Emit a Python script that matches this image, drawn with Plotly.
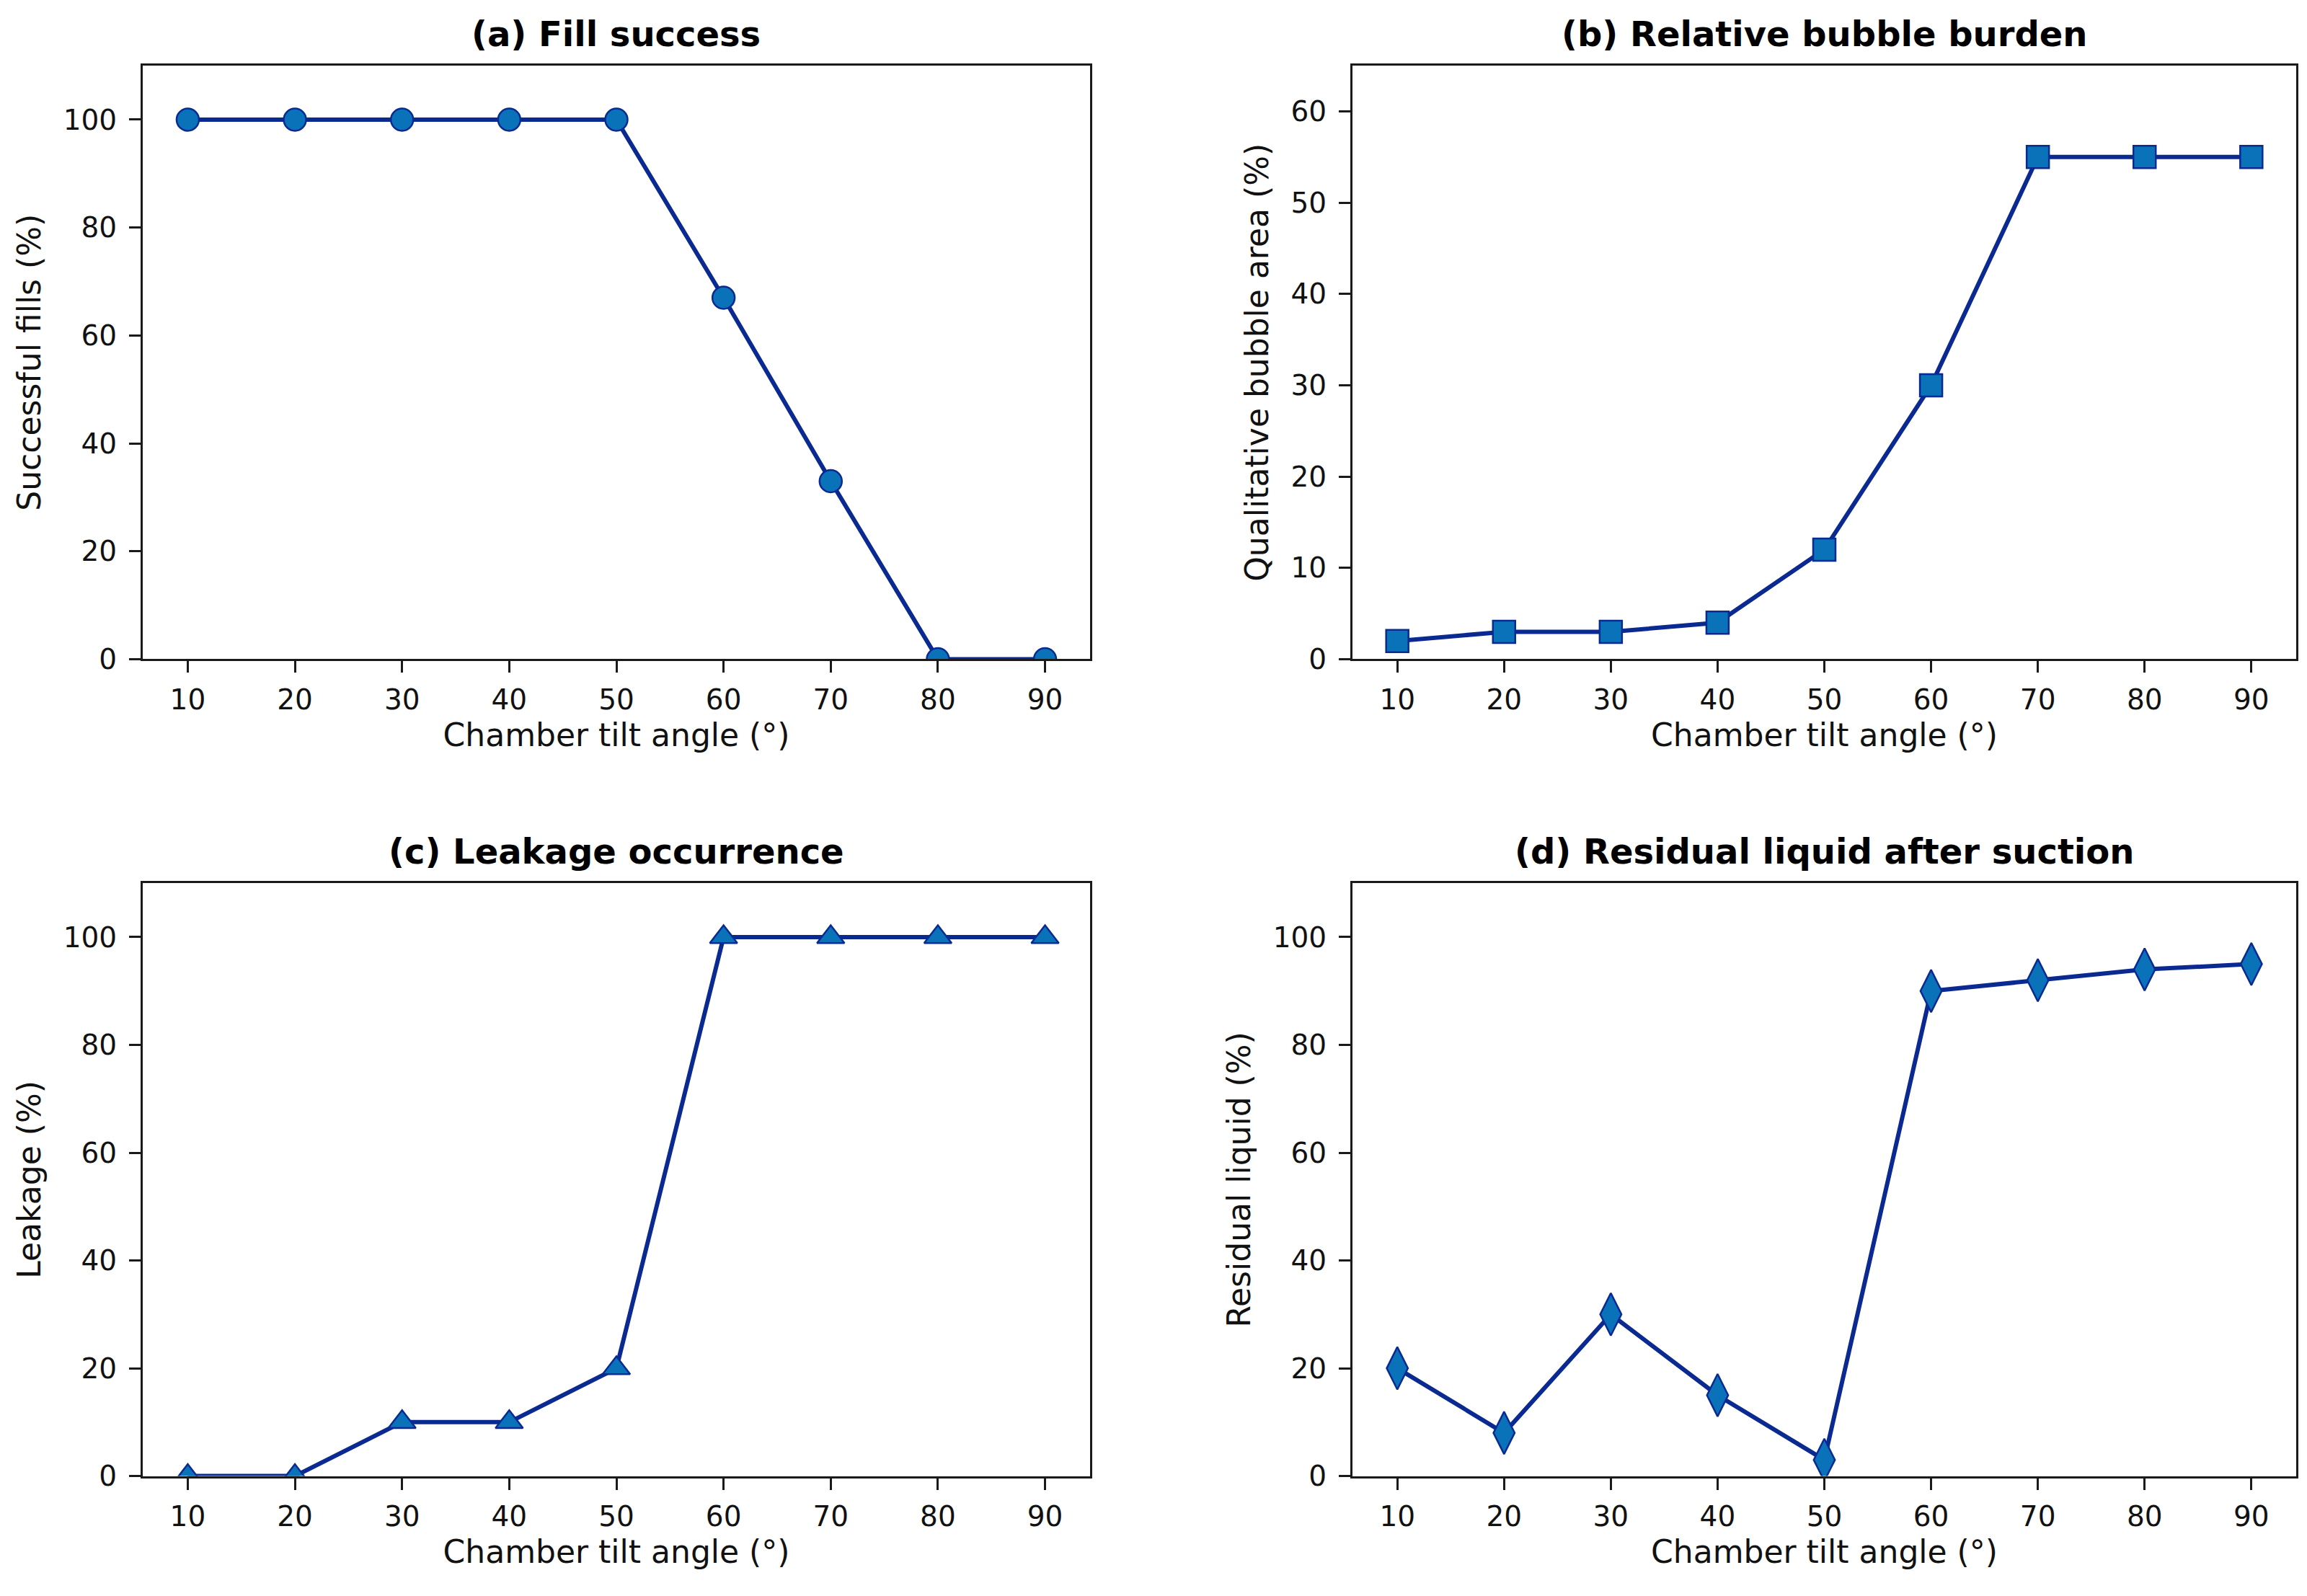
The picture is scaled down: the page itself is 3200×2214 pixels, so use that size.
import plotly.graph_objects as go
from plotly.subplots import make_subplots

# tilt angles shared by all four panels
angles = [10, 20, 30, 40, 50, 60, 70, 80, 90]

fill_success = [100, 100, 100, 100, 100, 67, 33, 0, 0]
bubble_area = [2, 3, 3, 4, 12, 30, 55, 55, 55]
leakage = [0, 0, 10, 10, 20, 100, 100, 100, 100]
residual = [20, 8, 30, 15, 3, 90, 92, 94, 95]

panel_titles = ["(a) Fill success", "(b) Relative bubble burden",
                "(c) Leakage occurrence", "(d) Residual liquid after suction"]
y_titles = ["Successful fills (%)", "Qualitative bubble area (%)",
            "Leakage (%)", "Residual liquid (%)"]
x_title = "Chamber tilt angle (°)"
y_ticks = [[0, 20, 40, 60, 80, 100], [0, 10, 20, 30, 40, 50, 60],
           [0, 20, 40, 60, 80, 100], [0, 20, 40, 60, 80, 100]]
y_ranges = [[0, 110], [0, 65], [0, 110], [0, 110]]

W, H = 3200, 2214
LINE = "#0a2a92"
FILL = "#0a72b8"
FONT = "DejaVu Sans"

series = [fill_success, bubble_area, leakage, residual]
symbols = ["circle", "square", "triangle-up", "diamond-tall"]
sizes = [31, 31, 33, 42]

# axes boxes in pixels (left, right, top, bottom)
boxes = [(190, 1504, 84, 916), (1868, 3177, 84, 916),
         (190, 1504, 1230, 2061), (1868, 3177, 1230, 2061)]

fig = make_subplots(rows=2, cols=2)

for i, ys in enumerate(series):
    r, c = i // 2 + 1, i % 2 + 1
    fig.add_trace(go.Scatter(
        x=angles, y=ys, mode="lines+markers",
        line=dict(color=LINE, width=6),
        marker=dict(symbol=symbols[i], size=sizes[i], color=FILL,
                    line=dict(color=LINE, width=2.5)),
        showlegend=False), row=r, col=c)

for i, (l, rt, t, b) in enumerate(boxes):
    n = "" if i == 0 else str(i + 1)
    xd = [l / W, rt / W]
    yd = [1 - b / H, 1 - t / H]
    common = dict(showline=True, linecolor="#1a1a1a", linewidth=3, mirror=True,
                  ticks="outside", ticklen=16, tickwidth=3, tickcolor="#1a1a1a",
                  showgrid=False, zeroline=False,
                  tickfont=dict(family=FONT, size=39, color="#111"))
    fig.layout["xaxis" + n].update(
        domain=xd, range=[5.8, 94.2], tickvals=angles, ticklabelstandoff=4,
        title=dict(text=x_title, font=dict(family=FONT, size=44, color="#111"),
                   standoff=12), **common)
    fig.layout["yaxis" + n].update(
        domain=yd, range=y_ranges[i], tickvals=y_ticks[i], ticklabelstandoff=9,
        title=dict(text=y_titles[i], font=dict(family=FONT, size=44, color="#111"),
                   standoff=18), **common)
    fig.add_annotation(
        x=(xd[0] + xd[1]) / 2, y=yd[1], xref="paper", yref="paper",
        xanchor="center", yanchor="bottom", yshift=14, showarrow=False,
        text="<b>" + panel_titles[i] + "</b>",
        font=dict(family=FONT, size=48, color="#000"))

fig.update_layout(width=W, height=H, margin=dict(l=0, r=0, t=0, b=0),
                  paper_bgcolor="white", plot_bgcolor="white")

fig.write_html("out.html")
